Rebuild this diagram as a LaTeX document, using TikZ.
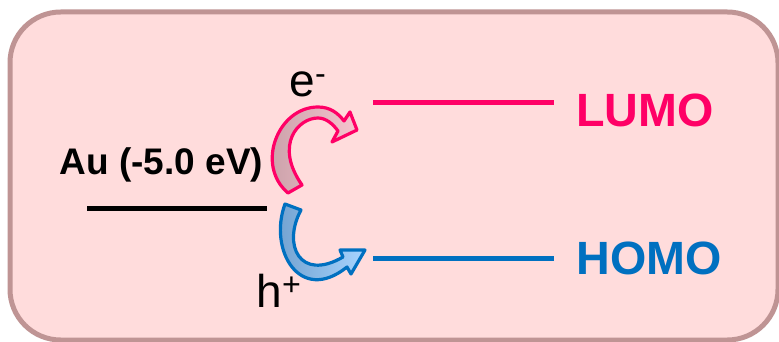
\documentclass[tikz,border=0pt]{standalone}
\usepackage{fontspec}
\setmainfont{Liberation Sans}
\definecolor{boxfill}{HTML}{FFDCDC}
\definecolor{boxedge}{HTML}{BF9494}
\definecolor{lumopink}{HTML}{FF0066}
\definecolor{homoblue}{HTML}{0070C0}
\definecolor{pinktail}{HTML}{C49CA4}
\definecolor{pinkhead}{HTML}{F6C4CE}
\definecolor{bluetail}{HTML}{6E9DCB}
\definecolor{bluehead}{HTML}{A6D4FF}
\begin{document}
\begin{tikzpicture}[x=0.75pt,y=-0.75pt,
  level/.style={line width=3.75pt},
  bigtag/.style={font=\fontsize{35}{40}\selectfont\bfseries,inner sep=0pt,anchor=base},
  carrier/.style={font=\fontsize{34.5}{40}\selectfont,inner sep=0pt,anchor=base},
  hoparrow/.style={line width=2.4pt,line join=round}]
\useasboundingbox (0,0) rectangle (779,342);

% panel
\draw[line width=3.75pt,draw=boxedge,fill=boxfill,rounded corners=38pt] (10,12) rectangle (778,340);

% gold level
\coordinate (au-l) at (87,208.5);
\coordinate (au-r) at (267,208.5);
\draw[level,black] (au-l) -- (au-r);
\node[font=\fontsize{27.75}{32}\selectfont\bfseries,inner sep=0pt,anchor=base] (au) at (161.5,175) {Au (-5.0 eV)};

% molecular levels
\coordinate (lumo-l) at (373,102.5);
\coordinate (lumo-r) at (554,102.5);
\draw[level,lumopink] (lumo-l) -- (lumo-r);
\node[bigtag,text=lumopink] (lumo) at (645,127) {LUMO};

\coordinate (homo-l) at (373,258.5);
\coordinate (homo-r) at (554,258.5);
\draw[level,homoblue] (homo-l) -- (homo-r);
\node[bigtag,text=homoblue] (homo) at (649.5,275) {HOMO};

% electron injection
\draw[hoparrow,draw=lumopink,left color=pinktail,right color=pinkhead]
  (288,193) .. controls (255,165) and (278,107) .. (318,107)
  .. controls (330,107) and (338,113) .. (344,121)
  -- (350,112) -- (357,130) -- (332,142) -- (338,131)
  .. controls (333,124) and (326,118) .. (318,118)
  .. controls (298,118) and (274,145) .. (302,185) -- cycle;
\node[carrier] (elec) at (308,97) {e\textsuperscript{-}};

% hole injection
\draw[hoparrow,draw=homoblue,left color=bluetail,right color=bluehead]
  (285,204) .. controls (268,250) and (300,305) .. (347,267)
  -- (351,274) -- (365,250) -- (340,250) -- (343,257)
  .. controls (300,282) and (282,245) .. (301,210) -- cycle;
\node[carrier] (hole) at (279,308) {h\textsuperscript{+}};

\end{tikzpicture}
\end{document}
